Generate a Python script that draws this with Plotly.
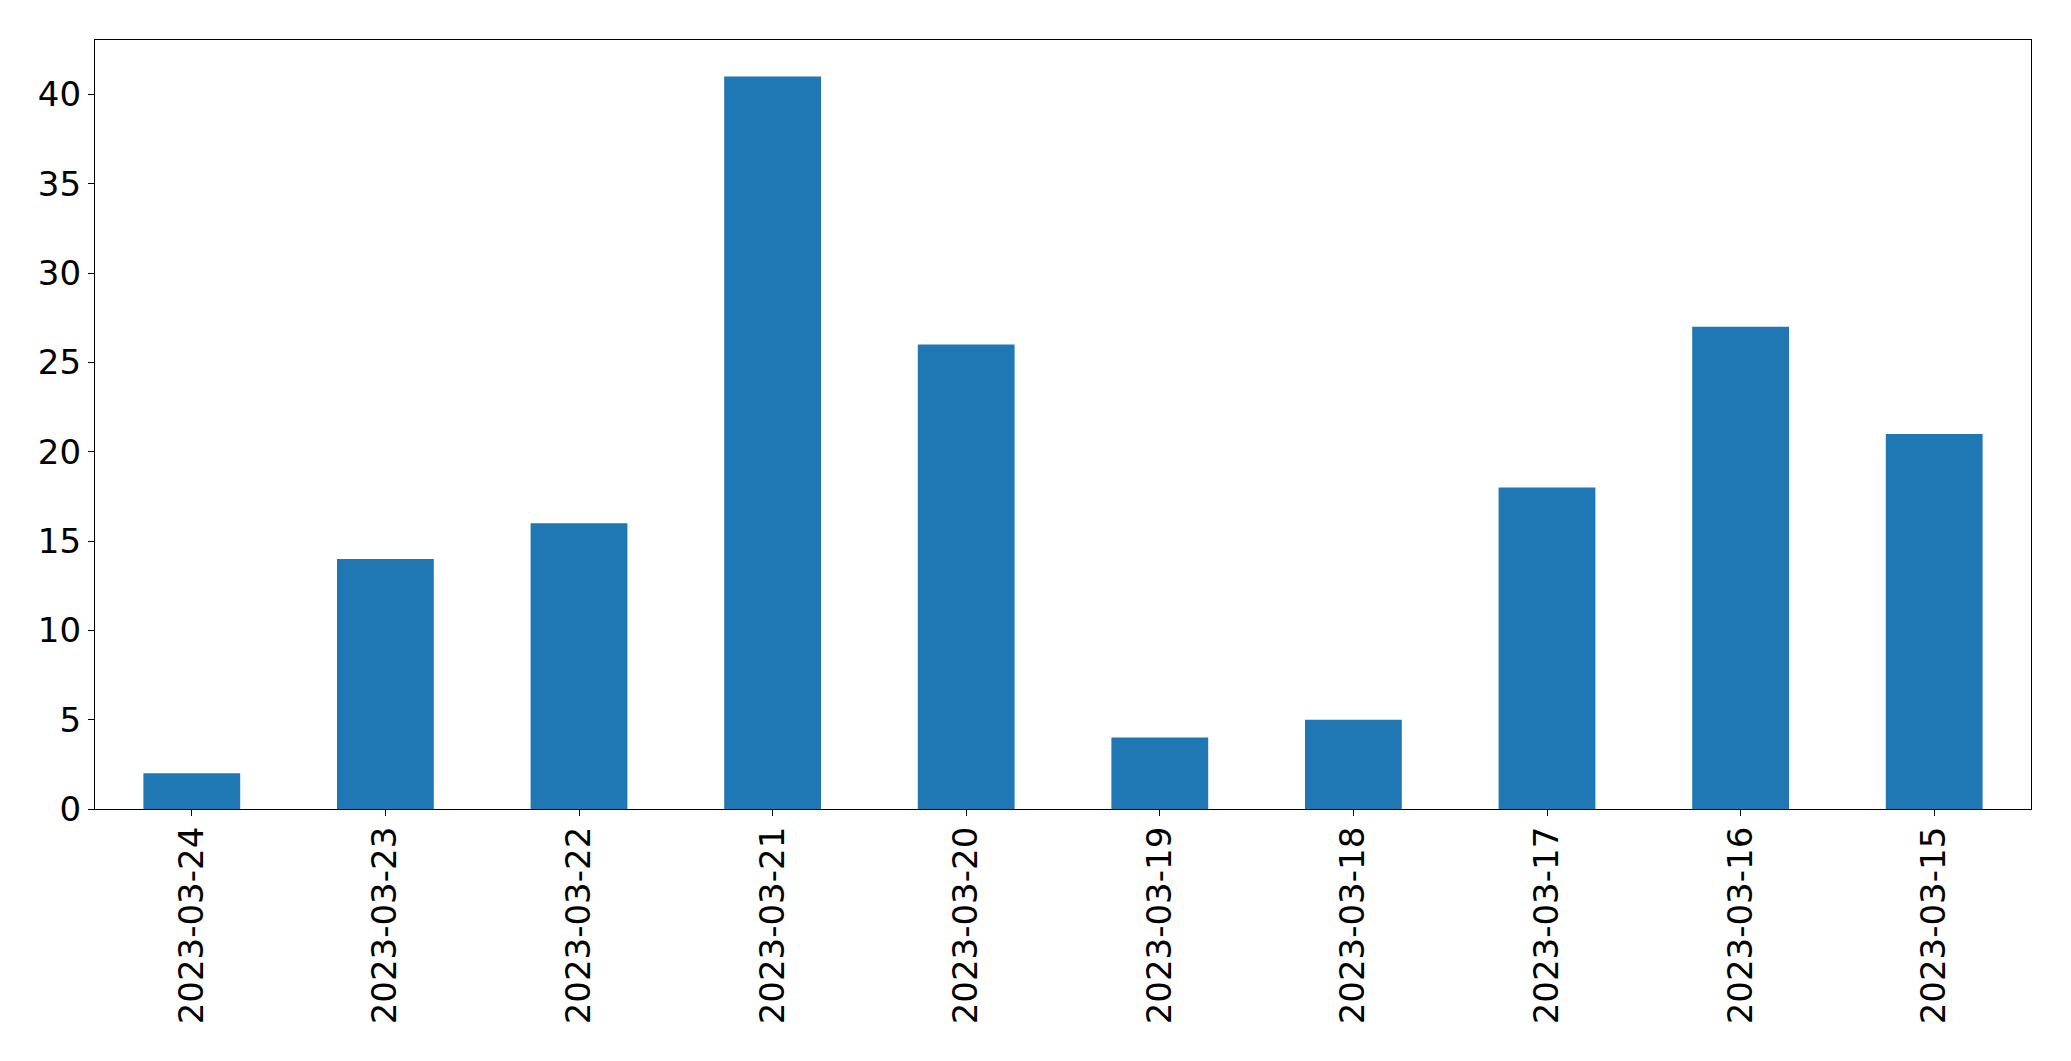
import plotly.graph_objects as go

dates = ["2023-03-24", "2023-03-23", "2023-03-22", "2023-03-21", "2023-03-20",
         "2023-03-19", "2023-03-18", "2023-03-17", "2023-03-16", "2023-03-15"]
counts = [2, 14, 16, 41, 26, 4, 5, 18, 27, 21]
y_ticks = [0, 5, 10, 15, 20, 25, 30, 35, 40]

fig = go.Figure(go.Bar(x=dates, y=counts, width=0.5, marker=dict(color="#1f77b4", line=dict(width=0))))

fig.update_layout(
    width=2071, height=1061,
    margin=dict(l=94.5, r=39.5, t=39.5, b=252),
    paper_bgcolor="white", plot_bgcolor="white",
    showlegend=False,
    font=dict(family="DejaVu Sans", size=34, color="black"),
)
fig.update_xaxes(
    type="category", range=[-0.5, 9.5], tickangle=-90,
    showline=True, linecolor="black", linewidth=1.3, mirror=True,
    ticks="outside", ticklen=6, tickwidth=1.3, tickcolor="black",
    showgrid=False, zeroline=False, tickfont=dict(size=34),
    ticklabelstandoff=-3,
)
fig.update_yaxes(
    range=[0, 43.05], tickvals=y_ticks,
    showline=True, linecolor="black", linewidth=1.3, mirror=True,
    ticks="outside", ticklen=6, tickwidth=1.3, tickcolor="black",
    showgrid=False, zeroline=False, tickfont=dict(size=34),
)
fig.write_html("out.html")
